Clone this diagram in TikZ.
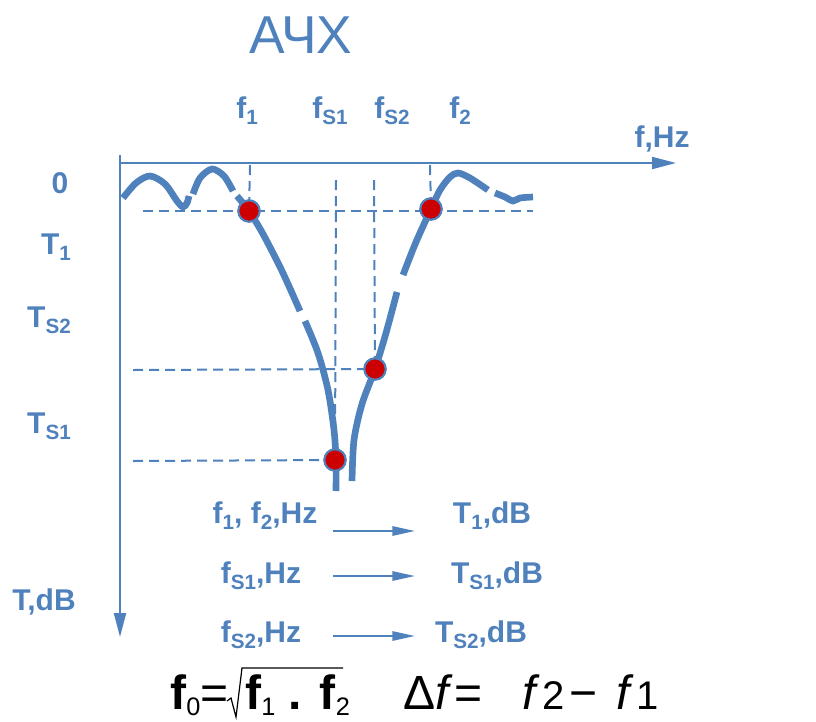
\documentclass[tikz,border=0pt]{standalone}
\usepackage{fontspec}
\setmainfont{Liberation Sans}
\usepackage{tikz}
\usetikzlibrary{arrows.meta}
\definecolor{AchBlue}{RGB}{79,129,189}
\definecolor{AchRed}{RGB}{204,0,0}
\newcommand{\lowidx}[1]{\raisebox{-5pt}{\fontsize{15.5}{15.5}\selectfont #1}}
\newcommand{\bigidx}[1]{\raisebox{-4.5pt}{\fontsize{19}{19}\selectfont\mdseries #1}}

\begin{document}
\begin{tikzpicture}[
x=0.75pt,y=-0.75pt,
lbl/.style={
text=AchBlue,
font=\fontsize{22.5}{26}\selectfont\bfseries,
inner sep=0pt,
anchor=base
},
curve/.style={draw=AchBlue,line width=5pt},
guide/.style={draw=AchBlue,line width=1.5pt,dash pattern=on 7.5pt off 4.5pt},
axis/.style={draw=AchBlue,line width=1.5pt,-{Triangle[length=18pt,width=9pt]}},
conv/.style={draw=AchBlue,line width=1.5pt,-{Triangle[length=17pt,width=7pt]}},
dot/.style={circle,fill=AchRed,draw=AchBlue,line width=1.5pt,minimum size=16pt,inner sep=0pt}
]
\useasboundingbox (0,0) rectangle (816,721);

\node[text=AchBlue,font=\fontsize{40}{44}\selectfont,inner sep=0pt] (title) at (301,35) {АЧХ};

% axes
\coordinate (o) at (120,163);
\coordinate (xend) at (676,163);
\coordinate (ytop) at (120,155);
\coordinate (yend) at (120,637);
\draw[axis] (o) -- (xend);
\draw[axis] (ytop) -- (yend);

\node[lbl] (fhz) at (662,147) {f,Hz};
\node[lbl] (tdb) at (44,610) {T,dB};
\node[lbl] (zero) at (60,193) {0};
\node[lbl] (t1) at (56,254) {T\lowidx{1}};
\node[lbl] (ts2) at (49,327) {T\lowidx{S2}};
\node[lbl] (ts1) at (49,433) {T\lowidx{S1}};

\node[lbl] (f1) at (247,118) {f\lowidx{1}};
\node[lbl] (fs1) at (330,118) {f\lowidx{S1}};
\node[lbl] (fs2) at (392,118) {f\lowidx{S2}};
\node[lbl] (f2) at (460,118) {f\lowidx{2}};

% points on the curve
\node[dot] (p1) at (249,211) {};
\node[dot] (p2) at (431,209) {};
\node[dot] (ps2) at (375,369) {};
\node[dot] (ps1) at (335,460) {};

% guide lines
\draw[guide] (143,211) -- (533,211);
\draw[guide] (133,370) -- (ps2.center);
\draw[guide] (133,461) -- (ps1.center);
\draw[guide] (250,165) -- (p1.center);
\draw[guide] (430,165) -- (p2.center);
\draw[guide] (336,180) -- (ps1.center);
\draw[guide] (374,180) -- (ps2.center);

% response curve
\draw[curve] plot[smooth] coordinates {(123,198) (136,183) (150,176) (165,184) (177,201) (183,207) (187,203) (189,196)};
\draw[curve] plot[smooth] coordinates {(193,194) (200,178) (212,169) (224,176) (233,191)};
\draw[curve] plot[smooth] coordinates {(237,196) (249,211) (263,234) (282,271) (300,311)};
\draw[curve] plot[smooth] coordinates {(305,321) (318,353) (328,390) (334,430) (336,460) (336,491)};
\draw[curve] plot[smooth] coordinates {(352,481) (354,440) (362,404) (375,369) (386,333) (397,292)};
\draw[curve] plot[smooth] coordinates {(403,275) (416,242) (431,209) (440,190) (450,177) (458,173) (470,178) (488,190)};
\draw[curve] plot[smooth] coordinates {(495,193) (505,197) (513,201) (520,198) (533,197)};

\node[dot] at (p1) {};
\node[dot] at (p2) {};
\node[dot] at (ps2) {};
\node[dot] at (ps1) {};

% conversions
\node[lbl] (in1) at (265,523) {f\lowidx{1}, f\lowidx{2},Hz};
\node[lbl] (out1) at (492,523) {T\lowidx{1},dB};
\node[lbl] (in2) at (261,583) {f\lowidx{S1},Hz};
\node[lbl] (out2) at (497,583) {T\lowidx{S1},dB};
\node[lbl] (in3) at (261,642) {f\lowidx{S2},Hz};
\node[lbl] (out3) at (481,642) {T\lowidx{S2},dB};

\coordinate (a1) at (333,531);
\coordinate (b1) at (415,531);
\coordinate (a2) at (333,576);
\coordinate (b2) at (415,576);
\coordinate (a3) at (333,636);
\coordinate (b3) at (415,636);
\draw[conv] (a1) -- (b1);
\draw[conv] (a2) -- (b2);
\draw[conv] (a3) -- (b3);

% formulas
\node[anchor=base west,inner sep=0pt,font=\fontsize{36}{40}\selectfont] (f0) at (170,709) {\textbf{f}\bigidx{0}=};
\node[anchor=base west,inner sep=0pt,font=\fontsize{36}{40}\selectfont\bfseries] (prod) at (245,709) {f\bigidx{1} . f\bigidx{2}};
\draw[black,line width=0.9pt] (227,701) -- (231,698) -- (236,717) -- (242,668) -- (343,668);
\node[anchor=base west,inner sep=0pt,font=\fontsize{36}{40}\selectfont] (df) at (403,709)
{Δ\textit{f}\hspace{1pt}=\hspace{30pt}\textit{f}\hspace{2pt}{\fontsize{30}{30}\selectfont 2}\hspace{4pt}−\hspace{14pt}\textit{f}\hspace{2pt}{\fontsize{30}{30}\selectfont 1}};

\end{tikzpicture}
\end{document}
